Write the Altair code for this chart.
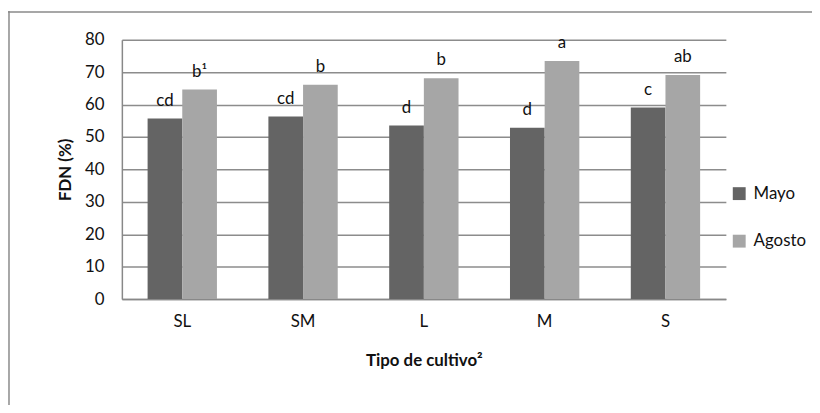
import altair as alt
import pandas as pd

categories = ["SL", "SM", "L", "M", "S"]
series = ["Mayo", "Agosto"]
mayo = [55.7, 56.3, 53.5, 52.8, 59.1]
agosto = [64.6, 66.1, 68.1, 73.4, 69.1]
mayo_letters = ["cd", "cd", "d", "d", "c"]
agosto_letters = ["b\u00b9", "b", "b", "a", "ab"]
y_ticks = [0, 10, 20, 30, 40, 50, 60, 70, 80]
colors = ["#646464", "#a6a6a6"]

rows = []
for i, c in enumerate(categories):
    rows.append({"cultivo": c, "mes": "Mayo", "fdn": mayo[i], "letra": mayo_letters[i]})
    rows.append({"cultivo": c, "mes": "Agosto", "fdn": agosto[i], "letra": agosto_letters[i]})
df = pd.DataFrame(rows)

FONT = "Lato"

x_enc = alt.X(
    "cultivo:N",
    sort=categories,
    scale=alt.Scale(paddingInner=0.426, paddingOuter=0.213),
    axis=alt.Axis(
        title="Tipo de cultivo\u00b2",
        labelAngle=0,
        ticks=False,
        domainColor="#888888",
        domainWidth=1.5,
        labelPadding=15,
        titlePadding=23,
        labelFontSize=17,
        titleFontSize=17,
        labelColor="#111111",
        titleColor="#111111",
    ),
)
xoff_enc = alt.XOffset("mes:N", sort=series, scale=alt.Scale(paddingInner=0, paddingOuter=0))
y_enc = alt.Y(
    "fdn:Q",
    scale=alt.Scale(domain=[0, 80], nice=False),
    axis=alt.Axis(
        title="FDN (%)",
        values=y_ticks,
        tickCount=20,
        labelOverlap=False,
        ticks=False,
        grid=True,
        gridColor="#8c8c8c",
        gridWidth=1.5,
        domainColor="#888888",
        domainWidth=1.5,
        labelPadding=18,
        titlePadding=10,
        labelFontSize=17,
        titleFontSize=17,
        labelColor="#111111",
        titleColor="#111111",
    ),
)

bars = alt.Chart(df).mark_bar().encode(
    x=x_enc,
    xOffset=xoff_enc,
    y=y_enc,
    color=alt.Color(
        "mes:N",
        sort=series,
        scale=alt.Scale(domain=series, range=colors),
        legend=alt.Legend(
            title=None,
            orient="none",
            legendX=615,
            legendY=147,
            symbolType="square",
            symbolSize=169,
            symbolStrokeWidth=0,
            symbolOpacity=1,
            labelFontSize=17,
            labelColor="#111111",
            rowPadding=30,
            labelOffset=6,
        ),
    ),
)

labels = alt.Chart(df).mark_text(
    baseline="alphabetic", dy=-13, fontSize=17, color="#111111", font=FONT
).encode(
    x=x_enc,
    xOffset=xoff_enc,
    y=y_enc,
    text="letra:N",
)

frame_df = pd.DataFrame({"k": [0]})
top_rule = alt.Chart(frame_df).mark_rule(color="#8a8a8a", strokeWidth=1.5).encode(
    x=alt.value(-115), x2=alt.value(820), y=alt.value(-28)
)
left_rule = alt.Chart(frame_df).mark_rule(color="#8a8a8a", strokeWidth=1.5).encode(
    x=alt.value(-114), y=alt.value(-29), y2=alt.value(420)
)

chart = (
    alt.layer(bars, labels, top_rule, left_rule)
    .properties(
        width=610,
        height=262,
        autosize="none",
        padding={"left": 115, "top": 30, "right": 87, "bottom": 105},
    )
    .configure(font=FONT)
    .configure_view(strokeWidth=0)
    .configure_axis(labelFont=FONT, titleFont=FONT, titleFontWeight="bold")
    .configure_legend(labelFont=FONT)
)

chart.save("out.html", embed_options={"renderer": "svg", "actions": False})
